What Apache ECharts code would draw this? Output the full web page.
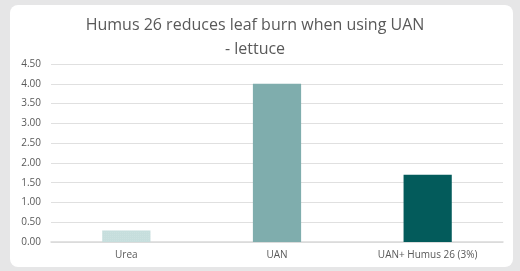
<!DOCTYPE html>
<html>
<head>
<meta charset="utf-8">
<script src="https://cdn.jsdelivr.net/npm/echarts@6/dist/echarts.min.js"></script>
<style>
  html, body { margin: 0; padding: 0; background: #e6e6e7; }
  #card { position: absolute; left: 10px; top: 5px; width: 503px; height: 262px; background: #fff; border-radius: 8px; }
  #chart_div { position: absolute; left: 0; top: 0; width: 520px; height: 271px; }
</style>
</head>
<body>
<div id="card"></div>
<div id="chart_div"></div>
<script>
// 数据
var categories = ['Urea', 'UAN', 'UAN+ Humus 26 (3%)'];
var values = [0.29, 4.00, 1.70];
var barColors = ['#c6dedd', '#7fadad', '#035b5b'];
var titleText = 'Humus 26 reduces leaf burn when using UAN\n- lettuce';

var chart = echarts.init(document.getElementById('chart_div'));
var option = {
	backgroundColor: 'transparent',
	title: {
		text: titleText,
		left: 250,
		textAlign: 'center',
		top: 8,
		textStyle: {
			fontFamily: 'Open Sans',
			fontSize: 16,
			fontWeight: 'normal',
			color: '#595959',
			lineHeight: 24
		}
	},
	grid: {
		left: 51,
		right: 17,
		top: 64,
		bottom: 29
	},
	xAxis: {
		type: 'category',
		data: categories,
		axisTick: { show: false },
		axisLine: { lineStyle: { color: '#d9d9d9', width: 1.5 } },
		axisLabel: {
			color: '#595959',
			fontSize: 10,
			fontFamily: 'Open Sans',
			margin: 8
		}
	},
	yAxis: {
		type: 'value',
		min: 0,
		max: 4.5,
		interval: 0.5,
		axisLabel: {
			color: '#595959',
			fontSize: 10,
			fontFamily: 'Open Sans',
			margin: 10,
			formatter: function (v) { return v.toFixed(2); }
		},
		splitLine: { lineStyle: { color: '#e0e0e0' } }
	},
	series: [{
		type: 'bar',
		barWidth: '32%',
		data: values.map(function (v, i) {
			var item = { value: v, itemStyle: { color: barColors[i] } };
			if (i === 0) {
				item.itemStyle.decal = {
					symbol: 'rect',
					symbolSize: 0.5,
					dashArrayX: [1, 1],
					dashArrayY: [1, 1],
					color: '#dcebea'
				};
			}
			return item;
		})
	}]
};
chart.setOption(option, true);
</script>
</body>
</html>
